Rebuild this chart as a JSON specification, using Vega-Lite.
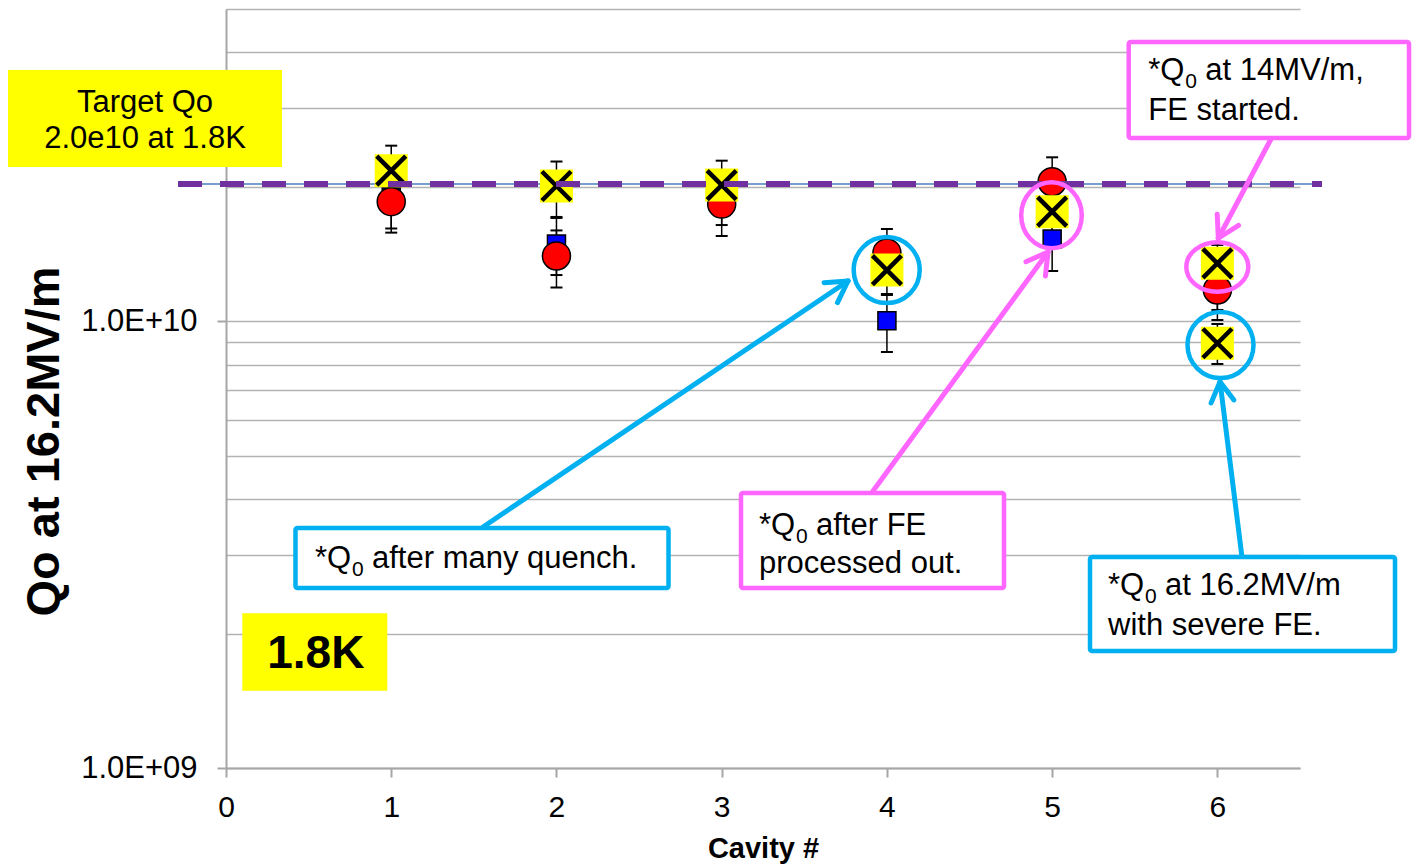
{
  "$schema": "https://vega.github.io/schema/vega-lite/v6.json",
  "width": 1074,
  "height": 759,
  "autosize": {"type": "none"},
  "padding": {"left": 226, "top": 9, "right": 112, "bottom": 97},
  "background": "white",
  "config": {"view": {"stroke": null}, "font": "Liberation Sans"},
  "datasets": {
    "q": [
      {"cavity": 1, "series": "Test 1", "Q0": 1.897e10, "lo": 1.613e10, "hi": 2.181e10},
      {"cavity": 2, "series": "Test 1", "Q0": 1.489e10, "lo": 1.269e10, "hi": 1.712e10},
      {"cavity": 3, "series": "Test 1", "Q0": 1.918e10, "lo": 1.642e10, "hi": 2.181e10},
      {"cavity": 4, "series": "Test 1", "Q0": 1.003e10, "lo": 8.535e9, "hi": 1.151e10},
      {"cavity": 5, "series": "Test 1", "Q0": 1.528e10, "lo": 1.2957e10, "hi": 1.747e10},
      {"cavity": 6, "series": "Test 1", "Q0": 1.237e10, "lo": 1.060e10, "hi": 1.407e10},
      {"cavity": 1, "series": "Test 2", "Q0": 1.852e10, "lo": 1.579e10, "hi": 2.114e10},
      {"cavity": 2, "series": "Test 2", "Q0": 1.400e10, "lo": 1.190e10, "hi": 1.597e10},
      {"cavity": 3, "series": "Test 2", "Q0": 1.830e10, "lo": 1.552e10, "hi": 2.093e10},
      {"cavity": 4, "series": "Test 2", "Q0": 1.422e10, "lo": 1.212e10, "hi": 1.609e10},
      {"cavity": 5, "series": "Test 2", "Q0": 2.053e10, "lo": 1.756e10, "hi": 2.328e10},
      {"cavity": 6, "series": "Test 2", "Q0": 1.175e10, "lo": 1.0065e10, "hi": 1.3364e10},
      {"cavity": 1, "series": "Test 3", "Q0": 2.173e10, "lo": 1.859e10, "hi": 2.472e10},
      {"cavity": 2, "series": "Test 3", "Q0": 2.008e10, "lo": 1.703e10, "hi": 2.278e10},
      {"cavity": 3, "series": "Test 3", "Q0": 2.018e10, "lo": 1.729e10, "hi": 2.288e10},
      {"cavity": 4, "series": "Test 3", "Q0": 1.302e10, "lo": 1.145e10, "hi": 1.482e10},
      {"cavity": 5, "series": "Test 3", "Q0": 1.759e10, "lo": 1.521e10, "hi": 2.008e10},
      {"cavity": 6, "series": "Test 3", "Q0": 1.348e10, "lo": 1.175e10, "hi": 1.482e10},
      {"cavity": 6, "series": "Test 3 (16.2MV/m)", "Q0": 8.928e9, "lo": 8.024e9, "hi": 9.860e9}
    ],
    "target": [{"x": -0.2905, "x2": 6.6332, "y": 2.029e10}],
    "highlights": [
      {"x": -1.3194, "x2": 0.3389, "y": 3.651e10, "y2": 2.215e10},
      {"x": 0.0987, "x2": 0.9762, "y": 2.220e9, "y2": 1.490e9}
    ],
    "boxes": [
      {"note": "quench", "x": 0.4206, "x2": 2.6781, "y": 3.446e9, "y2": 2.529e9},
      {"note": "fe_out", "x": 3.1169, "x2": 4.7086, "y": 4.127e9, "y2": 2.529e9},
      {"note": "fe_start", "x": 5.4633, "x2": 7.1597, "y": 4.218e10, "y2": 2.572e10},
      {"note": "severe", "x": 5.2291, "x2": 7.0750, "y": 2.967e9, "y2": 1.827e9}
    ],
    "rings": [
      {"note": "quench", "x": 3.9986, "y": 1.302e10},
      {"note": "fe_out", "x": 4.9960, "y": 1.727e10},
      {"note": "fe_start", "x": 5.9995, "y": 1.323e10},
      {"note": "severe", "x": 6.0189, "y": 8.849e9}
    ],
    "arrows": [
      {"note": "quench", "x": 1.5554, "y": 3.464e9, "x2": 3.7644, "y2": 1.2307e10},
      {"note": "quench", "x": 3.7644, "y": 1.2307e10, "x2": 3.6198, "y2": 1.2200e10},
      {"note": "quench", "x": 3.7644, "y": 1.2307e10, "x2": 3.7009, "y2": 1.1009e10},
      {"note": "fe_out", "x": 3.9158, "y": 4.170e9, "x2": 4.9749, "y2": 1.429e10},
      {"note": "fe_out", "x": 4.9749, "y": 1.429e10, "x2": 4.8417, "y2": 1.359e10},
      {"note": "fe_out", "x": 4.9749, "y": 1.429e10, "x2": 4.9592, "y2": 1.263e10},
      {"note": "fe_start", "x": 6.3245, "y": 2.558e10, "x2": 6.0056, "y2": 1.534e10},
      {"note": "fe_start", "x": 6.0056, "y": 1.534e10, "x2": 6.1279, "y2": 1.639e10},
      {"note": "fe_start", "x": 6.0056, "y": 1.534e10, "x2": 5.9989, "y2": 1.736e10},
      {"note": "severe", "x": 6.1472, "y": 2.998e9, "x2": 6.0159, "y2": 7.323e9},
      {"note": "severe", "x": 6.0159, "y": 7.323e9, "x2": 5.9620, "y2": 6.566e9},
      {"note": "severe", "x": 6.0159, "y": 7.323e9, "x2": 6.1000, "y2": 6.665e9}
    ],
    "targetText": [
      {"x": -0.4902, "y": 2.945e10, "text": "Target Qo"},
      {"x": -0.4902, "y": 2.439e10, "text": "2.0e10 at 1.8K"}
    ],
    "tempText": [{"x": 0.5435, "y": 1.674e9, "text": "1.8K"}],
    "q0Text": [
      {"x": 0.5387, "y": 2.800e9, "rest": "after many quench."},
      {"x": 3.2258, "y": 3.323e9, "rest": "after FE"},
      {"x": 5.5819, "y": 3.468e10, "rest": "at 14MV/m,"},
      {"x": 5.3380, "y": 2.439e9, "rest": "at 16.2MV/m"}
    ],
    "noteText": [
      {"x": 3.2258, "y": 2.733e9, "text": "processed out."},
      {"x": 5.5819, "y": 2.822e10, "text": "FE started."},
      {"x": 5.3380, "y": 1.985e9, "text": "with severe FE."}
    ]
  },
  "layer": [
    {
      "data": {"name": "target"},
      "mark": {"type": "rule", "color": "#4a7ebb", "strokeWidth": 1.5},
      "encoding": {
        "x": {"field": "x", "type": "quantitative", "scale": {"domain": [0, 6.5], "nice": false, "zero": false},
          "axis": {"values": [0, 1, 2, 3, 4, 5, 6], "title": "Cavity #", "grid": false, "format": "d",
            "domainColor": "#a6a6a6", "domainWidth": 2, "tickColor": "#a6a6a6", "tickWidth": 2, "tickSize": 9,
            "labelFont": "Liberation Sans", "labelFontSize": 30, "labelColor": "black", "labelPadding": 15,
            "labelFlush": false, "labelOverlap": false, "labelBound": false,
            "titleFont": "Liberation Sans", "titleFontSize": 29, "titleFontWeight": "bold", "titleColor": "black",
            "titleY": 66, "titleBaseline": "top"}},
        "x2": {"field": "x2"},
        "y": {"field": "y", "type": "quantitative", "scale": {"type": "log", "domain": [1e9, 5e10], "nice": false},
          "axis": {"values": [1e9, 2e9, 3e9, 4e9, 5e9, 6e9, 7e9, 8e9, 9e9, 1e10, 2e10, 3e10, 4e10, 5e10],
            "title": "Qo at 16.2MV/m", "grid": true, "gridColor": "#b3b3b3", "gridWidth": 1.5,
            "domainColor": "#a6a6a6", "domainWidth": 2, "tickColor": "#a6a6a6", "tickWidth": 2, "tickSize": 9,
            "tickOpacity": {"condition": {"test": "datum.value == 1e9 || datum.value == 1e10", "value": 1}, "value": 0},
            "labelExpr": "datum.value == 1e9 ? '1.0E+09' : (datum.value == 1e10 ? '1.0E+10' : '')",
            "labelFont": "Liberation Sans", "labelFontSize": 31, "labelColor": "black", "labelPadding": 20,
            "labelFlush": false, "labelOverlap": false, "labelBound": false,
            "titleFont": "Liberation Sans", "titleFontSize": 47, "titleFontWeight": "bold", "titleColor": "black",
            "titleX": -168, "titleY": 432, "titleBaseline": "alphabetic", "titleAlign": "center"}}
      }
    },
    {
      "data": {"name": "q"},
      "mark": {"type": "rule", "color": "black", "strokeWidth": 1.5},
      "encoding": {
        "x": {"field": "cavity", "type": "quantitative", "scale": {"domain": [0, 6.5], "nice": false, "zero": false}},
        "y": {"field": "lo", "type": "quantitative", "scale": {"type": "log", "domain": [1e9, 5e10], "nice": false}},
        "y2": {"field": "hi"}
      }
    },
    {
      "data": {"name": "q"},
      "mark": {"type": "tick", "orient": "horizontal", "size": 12, "thickness": 2, "color": "black", "opacity": 1},
      "encoding": {
        "x": {"field": "cavity", "type": "quantitative", "scale": {"domain": [0, 6.5], "nice": false, "zero": false}},
        "y": {"field": "lo", "type": "quantitative", "scale": {"type": "log", "domain": [1e9, 5e10], "nice": false}}
      }
    },
    {
      "data": {"name": "q"},
      "mark": {"type": "tick", "orient": "horizontal", "size": 12, "thickness": 2, "color": "black", "opacity": 1},
      "encoding": {
        "x": {"field": "cavity", "type": "quantitative", "scale": {"domain": [0, 6.5], "nice": false, "zero": false}},
        "y": {"field": "hi", "type": "quantitative", "scale": {"type": "log", "domain": [1e9, 5e10], "nice": false}}
      }
    },
    {
      "data": {"name": "q"},
      "transform": [{"filter": {"field": "series", "equal": "Test 1"}}],
      "mark": {"type": "point", "shape": "square", "size": 324, "filled": true, "fill": "#0000ff", "stroke": "black", "strokeWidth": 1.5, "opacity": 1},
      "encoding": {
        "x": {"field": "cavity", "type": "quantitative", "scale": {"domain": [0, 6.5], "nice": false, "zero": false}},
        "y": {"field": "Q0", "type": "quantitative", "scale": {"type": "log", "domain": [1e9, 5e10], "nice": false}}
      }
    },
    {
      "data": {"name": "q"},
      "transform": [{"filter": {"field": "series", "equal": "Test 2"}}],
      "mark": {"type": "point", "shape": "circle", "size": 784, "filled": true, "fill": "#ff0000", "stroke": "black", "strokeWidth": 1.5, "opacity": 1},
      "encoding": {
        "x": {"field": "cavity", "type": "quantitative", "scale": {"domain": [0, 6.5], "nice": false, "zero": false}},
        "y": {"field": "Q0", "type": "quantitative", "scale": {"type": "log", "domain": [1e9, 5e10], "nice": false}}
      }
    },
    {
      "data": {"name": "q"},
      "transform": [{"filter": {"field": "series", "oneOf": ["Test 3", "Test 3 (16.2MV/m)"]}}],
      "mark": {"type": "point", "shape": "square", "size": 1089, "filled": true, "fill": "#ffff00", "strokeWidth": 0, "opacity": 1},
      "encoding": {
        "x": {"field": "cavity", "type": "quantitative", "scale": {"domain": [0, 6.5], "nice": false, "zero": false}},
        "y": {"field": "Q0", "type": "quantitative", "scale": {"type": "log", "domain": [1e9, 5e10], "nice": false}}
      }
    },
    {
      "data": {"name": "q"},
      "transform": [{"filter": {"field": "series", "oneOf": ["Test 3", "Test 3 (16.2MV/m)"]}}],
      "mark": {"type": "point", "shape": "M -1 -1 L 1 1 M -1 1 L 1 -1", "size": 841, "filled": false, "stroke": "black", "strokeWidth": 4.5, "opacity": 1},
      "encoding": {
        "x": {"field": "cavity", "type": "quantitative", "scale": {"domain": [0, 6.5], "nice": false, "zero": false}},
        "y": {"field": "Q0", "type": "quantitative", "scale": {"type": "log", "domain": [1e9, 5e10], "nice": false}}
      }
    },
    {
      "data": {"name": "target"},
      "mark": {"type": "rule", "color": "#7030a0", "strokeWidth": 6, "strokeDash": [24, 18]},
      "encoding": {
        "x": {"field": "x", "type": "quantitative", "scale": {"domain": [0, 6.5], "nice": false, "zero": false}},
        "x2": {"field": "x2"},
        "y": {"field": "y", "type": "quantitative", "scale": {"type": "log", "domain": [1e9, 5e10], "nice": false}}
      }
    },
    {
      "data": {"name": "rings"},
      "transform": [{"filter": {"field": "note", "oneOf": ["quench", "severe"]}}],
      "mark": {"type": "point", "shape": "circle", "size": 4356, "filled": false, "strokeWidth": 4.5, "opacity": 1},
      "encoding": {
        "x": {"field": "x", "type": "quantitative", "scale": {"domain": [0, 6.5], "nice": false, "zero": false}},
        "y": {"field": "y", "type": "quantitative", "scale": {"type": "log", "domain": [1e9, 5e10], "nice": false}},
        "stroke": {"field": "note", "type": "nominal", "legend": null,
          "scale": {"domain": ["quench", "fe_out", "fe_start", "severe"], "range": ["#00b0f0", "#ff66ff", "#ff66ff", "#00b0f0"]}}
      }
    },
    {
      "data": {"name": "rings"},
      "transform": [{"filter": {"field": "note", "equal": "fe_out"}}],
      "mark": {"type": "point", "shape": "M -0.918 0 A 0.918 1 0 1 1 0.918 0 A 0.918 1 0 1 1 -0.918 0 Z", "size": 4356, "filled": false, "strokeWidth": 4.5, "opacity": 1},
      "encoding": {
        "x": {"field": "x", "type": "quantitative", "scale": {"domain": [0, 6.5], "nice": false, "zero": false}},
        "y": {"field": "y", "type": "quantitative", "scale": {"type": "log", "domain": [1e9, 5e10], "nice": false}},
        "stroke": {"field": "note", "type": "nominal", "legend": null,
          "scale": {"domain": ["quench", "fe_out", "fe_start", "severe"], "range": ["#00b0f0", "#ff66ff", "#ff66ff", "#00b0f0"]}}
      }
    },
    {
      "data": {"name": "rings"},
      "transform": [{"filter": {"field": "note", "equal": "fe_start"}}],
      "mark": {"type": "point", "shape": "M -1 0 A 1 0.797 0 1 1 1 0 A 1 0.797 0 1 1 -1 0 Z", "size": 3844, "filled": false, "strokeWidth": 4.5, "opacity": 1},
      "encoding": {
        "x": {"field": "x", "type": "quantitative", "scale": {"domain": [0, 6.5], "nice": false, "zero": false}},
        "y": {"field": "y", "type": "quantitative", "scale": {"type": "log", "domain": [1e9, 5e10], "nice": false}},
        "stroke": {"field": "note", "type": "nominal", "legend": null,
          "scale": {"domain": ["quench", "fe_out", "fe_start", "severe"], "range": ["#00b0f0", "#ff66ff", "#ff66ff", "#00b0f0"]}}
      }
    },
    {
      "data": {"name": "highlights"},
      "mark": {"type": "rect", "fill": "#ffff00"},
      "encoding": {
        "x": {"field": "x", "type": "quantitative", "scale": {"domain": [0, 6.5], "nice": false, "zero": false}},
        "x2": {"field": "x2"},
        "y": {"field": "y", "type": "quantitative", "scale": {"type": "log", "domain": [1e9, 5e10], "nice": false}},
        "y2": {"field": "y2"}
      }
    },
    {
      "data": {"name": "boxes"},
      "mark": {"type": "rect", "fill": "white", "strokeWidth": 4.5, "cornerRadius": 2},
      "encoding": {
        "x": {"field": "x", "type": "quantitative", "scale": {"domain": [0, 6.5], "nice": false, "zero": false}},
        "x2": {"field": "x2"},
        "y": {"field": "y", "type": "quantitative", "scale": {"type": "log", "domain": [1e9, 5e10], "nice": false}},
        "y2": {"field": "y2"},
        "stroke": {"field": "note", "type": "nominal", "legend": null,
          "scale": {"domain": ["quench", "fe_out", "fe_start", "severe"], "range": ["#00b0f0", "#ff66ff", "#ff66ff", "#00b0f0"]}}
      }
    },
    {
      "data": {"name": "arrows"},
      "mark": {"type": "rule", "strokeWidth": 5, "strokeCap": "round"},
      "encoding": {
        "x": {"field": "x", "type": "quantitative", "scale": {"domain": [0, 6.5], "nice": false, "zero": false}},
        "x2": {"field": "x2"},
        "y": {"field": "y", "type": "quantitative", "scale": {"type": "log", "domain": [1e9, 5e10], "nice": false}},
        "y2": {"field": "y2"},
        "stroke": {"field": "note", "type": "nominal", "legend": null,
          "scale": {"domain": ["quench", "fe_out", "fe_start", "severe"], "range": ["#00b0f0", "#ff66ff", "#ff66ff", "#00b0f0"]}}
      }
    },
    {
      "data": {"name": "targetText"},
      "mark": {"type": "text", "font": "Liberation Sans", "fontSize": 31, "color": "black", "align": "center", "baseline": "alphabetic"},
      "encoding": {
        "x": {"field": "x", "type": "quantitative", "scale": {"domain": [0, 6.5], "nice": false, "zero": false}},
        "y": {"field": "y", "type": "quantitative", "scale": {"type": "log", "domain": [1e9, 5e10], "nice": false}},
        "text": {"field": "text"}
      }
    },
    {
      "data": {"name": "tempText"},
      "mark": {"type": "text", "font": "Liberation Sans", "fontSize": 46, "fontWeight": "bold", "color": "black", "align": "center", "baseline": "alphabetic"},
      "encoding": {
        "x": {"field": "x", "type": "quantitative", "scale": {"domain": [0, 6.5], "nice": false, "zero": false}},
        "y": {"field": "y", "type": "quantitative", "scale": {"type": "log", "domain": [1e9, 5e10], "nice": false}},
        "text": {"field": "text"}
      }
    },
    {
      "data": {"name": "q0Text"},
      "mark": {"type": "text", "font": "Liberation Sans", "fontSize": 31, "color": "black", "align": "left", "baseline": "alphabetic"},
      "encoding": {
        "x": {"field": "x", "type": "quantitative", "scale": {"domain": [0, 6.5], "nice": false, "zero": false}},
        "y": {"field": "y", "type": "quantitative", "scale": {"type": "log", "domain": [1e9, 5e10], "nice": false}},
        "text": {"value": "*Q"}
      }
    },
    {
      "data": {"name": "q0Text"},
      "mark": {"type": "text", "font": "Liberation Sans", "fontSize": 21, "color": "black", "align": "left", "baseline": "alphabetic", "dx": 37, "dy": 8},
      "encoding": {
        "x": {"field": "x", "type": "quantitative", "scale": {"domain": [0, 6.5], "nice": false, "zero": false}},
        "y": {"field": "y", "type": "quantitative", "scale": {"type": "log", "domain": [1e9, 5e10], "nice": false}},
        "text": {"value": "0"}
      }
    },
    {
      "data": {"name": "q0Text"},
      "mark": {"type": "text", "font": "Liberation Sans", "fontSize": 31, "color": "black", "align": "left", "baseline": "alphabetic", "dx": 57},
      "encoding": {
        "x": {"field": "x", "type": "quantitative", "scale": {"domain": [0, 6.5], "nice": false, "zero": false}},
        "y": {"field": "y", "type": "quantitative", "scale": {"type": "log", "domain": [1e9, 5e10], "nice": false}},
        "text": {"field": "rest"}
      }
    },
    {
      "data": {"name": "noteText"},
      "mark": {"type": "text", "font": "Liberation Sans", "fontSize": 31, "color": "black", "align": "left", "baseline": "alphabetic"},
      "encoding": {
        "x": {"field": "x", "type": "quantitative", "scale": {"domain": [0, 6.5], "nice": false, "zero": false}},
        "y": {"field": "y", "type": "quantitative", "scale": {"type": "log", "domain": [1e9, 5e10], "nice": false}},
        "text": {"field": "text"}
      }
    }
  ]
}
